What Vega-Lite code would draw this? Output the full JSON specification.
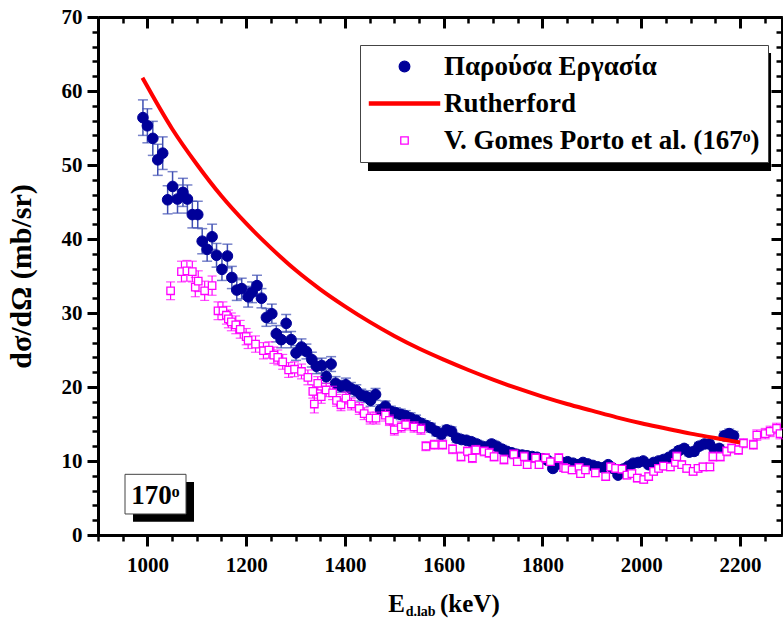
{
  "$schema": "https://vega.github.io/schema/vega-lite/v6.json",
  "width": 684,
  "height": 518,
  "autosize": "none",
  "padding": {"left": 98, "top": 17, "right": 1, "bottom": 85},
  "background": "white",
  "config": {
    "view": {"stroke": null},
    "font": "Liberation Serif",
    "legend": {
      "labelFont": "Liberation Serif",
      "labelFontSize": 27,
      "labelFontWeight": "bold",
      "labelColor": "black",
      "labelLimit": 500,
      "symbolSize": 113,
      "symbolStrokeWidth": 1.3,
      "symbolOpacity": 1,
      "symbolStrokeColor": "black",
      "symbolFillColor": "white",
      "symbolOffset": 23,
      "labelOffset": 26,
      "padding": 8,
      "rowPadding": 9,
      "strokeColor": "#444444",
      "fillColor": "white"
    }
  },
  "datasets": {
    "present": [
      {"E":991,"v":56.4,"err":2.4},{"E":1000,"v":55.3,"err":2.3},{"E":1011,"v":53.6,"err":2.3},{"E":1021,"v":50.7,"err":2.1},
      {"E":1031,"v":51.6,"err":2.2},{"E":1041,"v":45.3,"err":1.9},{"E":1051,"v":47.1,"err":2.0},{"E":1061,"v":45.4,"err":1.9},
      {"E":1072,"v":46.3,"err":1.9},{"E":1081,"v":45.4,"err":1.9},{"E":1091,"v":43.3,"err":1.8},{"E":1102,"v":43.3,"err":1.8},
      {"E":1111,"v":39.7,"err":1.7},{"E":1121,"v":38.6,"err":1.6},{"E":1131,"v":40.3,"err":1.7},{"E":1140,"v":37.8,"err":1.6},
      {"E":1151,"v":35.9,"err":1.5},{"E":1162,"v":37.7,"err":1.6},{"E":1171,"v":34.8,"err":1.5},{"E":1181,"v":33.1,"err":1.4},
      {"E":1191,"v":33.3,"err":1.4},{"E":1204,"v":32.2,"err":1.4},{"E":1212,"v":32.8,"err":1.4},{"E":1222,"v":33.7,"err":1.4},
      {"E":1231,"v":32.0,"err":1.3},{"E":1241,"v":29.4,"err":1.2},{"E":1252,"v":29.9,"err":1.3},{"E":1261,"v":27.2,"err":1.1},
      {"E":1271,"v":26.4,"err":1.1},{"E":1281,"v":28.6,"err":1.2},{"E":1291,"v":26.4,"err":1.1},{"E":1301,"v":24.6,"err":1.0},
      {"E":1312,"v":25.4,"err":1.1},{"E":1322,"v":24.8,"err":1.0},{"E":1333,"v":23.7,"err":1.0},{"E":1342,"v":22.8,"err":1.0},
      {"E":1353,"v":22.9,"err":1.0},{"E":1362,"v":21.4,"err":0.9},{"E":1372,"v":23.1,"err":1.0},{"E":1381,"v":20.5,"err":0.9},
      {"E":1392,"v":20.1,"err":0.8},{"E":1402,"v":20.3,"err":0.9},{"E":1412,"v":19.8,"err":0.8},{"E":1423,"v":19.5,"err":0.8},
      {"E":1433,"v":18.9,"err":0.8},{"E":1443,"v":18.7,"err":0.8},{"E":1452,"v":18.2,"err":0.8},{"E":1462,"v":19.0,"err":0.8},
      {"E":1472,"v":16.9,"err":0.7},{"E":1482,"v":17.4,"err":0.7},{"E":1493,"v":16.7,"err":0.7},{"E":1503,"v":16.5,"err":0.7},
      {"E":1513,"v":16.3,"err":0.7},{"E":1523,"v":16.1,"err":0.7},{"E":1533,"v":15.8,"err":0.7},{"E":1544,"v":15.5,"err":0.7},
      {"E":1554,"v":15.1,"err":0.6},{"E":1564,"v":14.8,"err":0.6},{"E":1574,"v":14.5,"err":0.6},{"E":1585,"v":14.0,"err":0.6},
      {"E":1595,"v":13.6,"err":0.6},{"E":1606,"v":14.2,"err":0.6},{"E":1616,"v":14.0,"err":0.6},{"E":1626,"v":13.1,"err":0.6},
      {"E":1636,"v":12.9,"err":0.5},{"E":1646,"v":12.8,"err":0.5},{"E":1656,"v":12.6,"err":0.5},{"E":1667,"v":12.3,"err":0.5},
      {"E":1677,"v":12.0,"err":0.5},{"E":1687,"v":11.9,"err":0.5},{"E":1697,"v":12.3,"err":0.5},{"E":1707,"v":12.0,"err":0.5},
      {"E":1718,"v":11.6,"err":0.5},{"E":1728,"v":11.3,"err":0.5},{"E":1738,"v":11.1,"err":0.5},{"E":1748,"v":10.9,"err":0.5},
      {"E":1759,"v":10.8,"err":0.5},{"E":1769,"v":10.7,"err":0.4},{"E":1779,"v":10.6,"err":0.4},{"E":1789,"v":10.5,"err":0.4},
      {"E":1800,"v":10.3,"err":0.4},{"E":1810,"v":10.1,"err":0.4},{"E":1821,"v":9.0,"err":0.4},{"E":1831,"v":9.6,"err":0.4},
      {"E":1841,"v":9.8,"err":0.4},{"E":1851,"v":9.9,"err":0.4},{"E":1862,"v":9.7,"err":0.4},{"E":1872,"v":9.5,"err":0.4},
      {"E":1882,"v":9.8,"err":0.4},{"E":1892,"v":9.6,"err":0.4},{"E":1902,"v":9.4,"err":0.4},{"E":1912,"v":9.2,"err":0.4},
      {"E":1923,"v":9.1,"err":0.4},{"E":1933,"v":9.5,"err":0.4},{"E":1943,"v":9.0,"err":0.4},{"E":1953,"v":8.1,"err":0.3},
      {"E":1963,"v":8.9,"err":0.4},{"E":1974,"v":9.3,"err":0.4},{"E":1984,"v":9.7,"err":0.4},{"E":1994,"v":9.8,"err":0.4},
      {"E":2004,"v":10.0,"err":0.4},{"E":2015,"v":9.5,"err":0.4},{"E":2025,"v":9.8,"err":0.4},{"E":2035,"v":10.0,"err":0.4},
      {"E":2045,"v":10.2,"err":0.4},{"E":2056,"v":10.5,"err":0.4},{"E":2066,"v":10.9,"err":0.5},{"E":2076,"v":11.4,"err":0.5},
      {"E":2087,"v":11.7,"err":0.5},{"E":2097,"v":11.2,"err":0.5},{"E":2107,"v":11.3,"err":0.5},{"E":2117,"v":12.0,"err":0.5},
      {"E":2128,"v":12.3,"err":0.5},{"E":2138,"v":12.3,"err":0.5},{"E":2148,"v":11.6,"err":0.5},{"E":2158,"v":11.7,"err":0.5},
      {"E":2168,"v":13.4,"err":0.6},{"E":2178,"v":13.7,"err":0.6},{"E":2187,"v":13.4,"err":0.6}
    ],
    "gomes": [
      {"E":1047,"v":33.0,"err":1.2},{"E":1069,"v":35.6,"err":1.4},{"E":1080,"v":35.7,"err":1.4},{"E":1091,"v":35.6,"err":1.4},
      {"E":1097,"v":33.5,"err":1.3},{"E":1103,"v":34.3,"err":1.4},{"E":1116,"v":33.0,"err":1.3},{"E":1131,"v":33.7,"err":1.3},
      {"E":1143,"v":30.3,"err":1.2},{"E":1153,"v":30.3,"err":1.2},{"E":1160,"v":29.7,"err":1.2},{"E":1164,"v":29.2,"err":1.2},
      {"E":1170,"v":28.8,"err":1.2},{"E":1179,"v":28.4,"err":1.2},{"E":1188,"v":27.8,"err":1.2},{"E":1200,"v":26.8,"err":1.1},
      {"E":1204,"v":26.3,"err":1.1},{"E":1219,"v":25.8,"err":1.1},{"E":1235,"v":24.9,"err":1.1},{"E":1246,"v":25.0,"err":1.1},
      {"E":1256,"v":24.3,"err":1.1},{"E":1264,"v":24.0,"err":1.0},{"E":1274,"v":23.4,"err":1.0},{"E":1286,"v":22.3,"err":1.0},
      {"E":1298,"v":22.4,"err":1.0},{"E":1312,"v":22.1,"err":1.0},{"E":1325,"v":21.3,"err":1.0},{"E":1335,"v":19.4,"err":0.9},
      {"E":1338,"v":17.7,"err":1.2},{"E":1345,"v":20.5,"err":0.9},{"E":1352,"v":18.7,"err":0.9},{"E":1362,"v":19.6,"err":0.9},
      {"E":1375,"v":19.2,"err":0.9},{"E":1383,"v":18.2,"err":0.8},{"E":1392,"v":17.6,"err":0.8},{"E":1402,"v":18.5,"err":0.8},
      {"E":1413,"v":17.7,"err":0.8},{"E":1429,"v":17.1,"err":0.8},{"E":1439,"v":16.4,"err":0.8},{"E":1451,"v":15.8,"err":0.8},
      {"E":1463,"v":15.8,"err":0.8},{"E":1482,"v":16.2,"err":0.8},{"E":1490,"v":15.5,"err":0.7},{"E":1500,"v":14.2,"err":0.7},
      {"E":1514,"v":14.6,"err":0.7},{"E":1523,"v":14.9,"err":0.7},{"E":1540,"v":14.6,"err":0.7},{"E":1554,"v":14.3,"err":0.7},
      {"E":1564,"v":12.0,"err":0.6},{"E":1581,"v":12.2,"err":0.6},{"E":1598,"v":12.2,"err":0.6},{"E":1618,"v":11.6,"err":0.6},
      {"E":1635,"v":10.6,"err":0.6},{"E":1648,"v":11.3,"err":0.6},{"E":1658,"v":10.4,"err":0.6},{"E":1665,"v":11.5,"err":0.6},
      {"E":1682,"v":11.3,"err":0.6},{"E":1692,"v":11.1,"err":0.6},{"E":1702,"v":10.6,"err":0.6},{"E":1722,"v":10.2,"err":0.6},
      {"E":1742,"v":10.9,"err":0.6},{"E":1749,"v":9.9,"err":0.5},{"E":1763,"v":10.6,"err":0.6},{"E":1769,"v":9.5,"err":0.5},
      {"E":1786,"v":10.4,"err":0.6},{"E":1793,"v":9.5,"err":0.5},{"E":1806,"v":10.4,"err":0.6},{"E":1816,"v":9.9,"err":0.5},
      {"E":1833,"v":10.4,"err":0.6},{"E":1843,"v":9.1,"err":0.5},{"E":1847,"v":9.0,"err":0.5},{"E":1860,"v":8.8,"err":0.5},
      {"E":1874,"v":9.1,"err":0.5},{"E":1877,"v":8.3,"err":0.5},{"E":1887,"v":8.8,"err":0.5},{"E":1907,"v":8.4,"err":0.5},
      {"E":1928,"v":7.9,"err":0.5},{"E":1938,"v":9.2,"err":0.5},{"E":1948,"v":9.0,"err":0.5},{"E":1961,"v":8.9,"err":0.5},
      {"E":1971,"v":8.1,"err":0.5},{"E":1981,"v":8.3,"err":0.5},{"E":1992,"v":7.7,"err":0.5},{"E":2005,"v":7.5,"err":0.5},
      {"E":2015,"v":7.9,"err":0.5},{"E":2025,"v":8.6,"err":0.5},{"E":2035,"v":9.0,"err":0.5},{"E":2045,"v":9.3,"err":0.5},
      {"E":2059,"v":9.2,"err":0.5},{"E":2069,"v":9.8,"err":0.5},{"E":2072,"v":10.6,"err":0.6},{"E":2082,"v":9.5,"err":0.5},
      {"E":2092,"v":9.0,"err":0.5},{"E":2105,"v":8.6,"err":0.5},{"E":2115,"v":9.0,"err":0.5},{"E":2125,"v":9.2,"err":0.5},
      {"E":2139,"v":9.2,"err":0.5},{"E":2145,"v":10.6,"err":0.6},{"E":2160,"v":10.6,"err":0.6},{"E":2173,"v":11.3,"err":0.6},
      {"E":2183,"v":11.7,"err":0.6},{"E":2197,"v":11.5,"err":0.6},{"E":2207,"v":12.4,"err":0.6},{"E":2227,"v":12.2,"err":0.6},
      {"E":2234,"v":13.5,"err":0.7},{"E":2251,"v":13.7,"err":0.7},{"E":2261,"v":14.0,"err":0.7},{"E":2274,"v":14.4,"err":0.7},
      {"E":2281,"v":13.7,"err":0.7}
    ],
    "ruth": [
      {"E":990,"v":61.8},{"E":1000,"v":60.6},{"E":1050,"v":54.9},{"E":1100,"v":50.1},{"E":1150,"v":45.8},
      {"E":1200,"v":42.1},{"E":1250,"v":38.8},{"E":1300,"v":35.8},{"E":1350,"v":33.2},{"E":1400,"v":30.9},
      {"E":1450,"v":28.8},{"E":1500,"v":26.9},{"E":1550,"v":25.2},{"E":1600,"v":23.7},{"E":1650,"v":22.3},
      {"E":1700,"v":21.0},{"E":1750,"v":19.8},{"E":1800,"v":18.7},{"E":1850,"v":17.7},{"E":1900,"v":16.8},
      {"E":1950,"v":15.9},{"E":2000,"v":15.1},{"E":2050,"v":14.4},{"E":2100,"v":13.7},{"E":2150,"v":13.1},
      {"E":2200,"v":12.5}
    ],
    "one": [{}]
  },
  "resolve": {"axis": {"x": "independent", "y": "independent"}},
  "layer": [
    {
      "data": {"name": "present"},
      "mark": {"type": "errorbar", "color": "#3f4fb3", "thickness": 1.5, "ticks": {"size": 10, "thickness": 1.5, "color": "#3f4fb3"}},
      "encoding": {
        "x": {"field": "E", "type": "quantitative", "scale": {"domain": [900, 2285], "nice": false, "zero": false}, "axis": null},
        "y": {"field": "v", "type": "quantitative", "scale": {"domain": [0, 70], "nice": false, "zero": false}, "axis": null},
        "yError": {"field": "err"}
      }
    },
    {
      "data": {"name": "present"},
      "mark": {"type": "point", "filled": true, "opacity": 1, "size": 113, "strokeWidth": 1},
      "encoding": {
        "x": {"field": "E", "type": "quantitative", "scale": {"domain": [900, 2285], "nice": false, "zero": false},
          "axis": {"orient": "top", "values": [1000,1200,1400,1600,1800,2000,2200],
            "labels": false, "title": null, "grid": false, "domain": true, "domainColor": "black", "domainWidth": 3,
            "tickColor": "black", "tickWidth": 3, "tickSize": -11}},
        "y": {"field": "v", "type": "quantitative", "scale": {"domain": [0, 70], "nice": false, "zero": false},
          "axis": {"orient": "right", "values": [0,10,20,30,40,50,60,70],
            "labels": false, "title": null, "grid": false, "domain": true, "domainColor": "black", "domainWidth": 3,
            "tickColor": "black", "tickWidth": 3, "tickSize": -11}},
        "fill": {"datum": "Παρούσα Εργασία", "type": "nominal",
          "scale": {"domain": ["Παρούσα Εργασία", "Rutherford", "V. Gomes Porto et al. (167ᵒ)"], "range": ["#000099", "#ff0000", "white"]},
          "legend": {"title": null, "orient": "none", "legendX": 262, "legendY": 28}},
        "stroke": {"datum": "Παρούσα Εργασία", "type": "nominal",
          "scale": {"domain": ["Παρούσα Εργασία", "Rutherford", "V. Gomes Porto et al. (167ᵒ)"], "range": ["#000099", "#ff0000", "#ff00ff"]},
          "legend": {"title": null, "orient": "none", "legendX": 262, "legendY": 28}},
        "shape": {"datum": "Παρούσα Εργασία", "type": "nominal",
          "scale": {"domain": ["Παρούσα Εργασία", "Rutherford", "V. Gomes Porto et al. (167ᵒ)"], "range": ["circle", "M-6.6,-0.3H6.6V0.3H-6.6Z", "M-0.7,-0.7H0.7V0.7H-0.7Z"]},
          "legend": {"title": null, "orient": "none", "legendX": 262, "legendY": 28}}
      }
    },
    {
      "data": {"name": "gomes"},
      "mark": {"type": "errorbar", "color": "#ff00ff", "thickness": 1.2, "ticks": {"size": 9, "thickness": 1.2, "color": "#ff00ff"}},
      "encoding": {
        "x": {"field": "E", "type": "quantitative", "scale": {"domain": [900, 2285], "nice": false, "zero": false}, "axis": null},
        "y": {"field": "v", "type": "quantitative", "scale": {"domain": [0, 70], "nice": false, "zero": false}, "axis": null},
        "yError": {"field": "err"}
      }
    },
    {
      "data": {"name": "gomes"},
      "mark": {"type": "point", "filled": true, "opacity": 1, "size": 113, "strokeWidth": 1.3, "clip": true},
      "encoding": {
        "x": {"field": "E", "type": "quantitative", "scale": {"domain": [900, 2285], "nice": false, "zero": false},
          "axis": {"orient": "bottom", "values": [900,950,1000,1050,1100,1150,1200,1250,1300,1350,1400,1450,1500,1550,1600,1650,1700,1750,1800,1850,1900,1950,2000,2050,2100,2150,2200,2250],
            "labels": false, "title": null, "grid": false, "domain": false, "tickColor": "black", "tickWidth": 2.5, "tickSize": 6}},
        "y": {"field": "v", "type": "quantitative", "scale": {"domain": [0, 70], "nice": false, "zero": false},
          "axis": {"orient": "left", "values": [0,2,4,6,8,10,12,14,16,18,20,22,24,26,28,30,32,34,36,38,40,42,44,46,48,50,52,54,56,58,60,62,64,66,68,70],
            "labels": false, "title": null, "grid": false, "domain": false, "tickColor": "black", "tickWidth": 2.5, "tickSize": 6}},
        "fill": {"datum": "V. Gomes Porto et al. (167ᵒ)", "type": "nominal",
          "scale": {"domain": ["Παρούσα Εργασία", "Rutherford", "V. Gomes Porto et al. (167ᵒ)"], "range": ["#000099", "#ff0000", "white"]},
          "legend": {"title": null, "orient": "none", "legendX": 262, "legendY": 28}},
        "stroke": {"datum": "V. Gomes Porto et al. (167ᵒ)", "type": "nominal",
          "scale": {"domain": ["Παρούσα Εργασία", "Rutherford", "V. Gomes Porto et al. (167ᵒ)"], "range": ["#000099", "#ff0000", "#ff00ff"]},
          "legend": {"title": null, "orient": "none", "legendX": 262, "legendY": 28}},
        "shape": {"datum": "V. Gomes Porto et al. (167ᵒ)", "type": "nominal",
          "scale": {"domain": ["Παρούσα Εργασία", "Rutherford", "V. Gomes Porto et al. (167ᵒ)"], "range": ["circle", "M-6.6,-0.3H6.6V0.3H-6.6Z", "M-0.7,-0.7H0.7V0.7H-0.7Z"]},
          "legend": {"title": null, "orient": "none", "legendX": 262, "legendY": 28}}
      }
    },
    {
      "data": {"name": "ruth"},
      "mark": {"type": "line", "strokeWidth": 4, "interpolate": "monotone"},
      "encoding": {
        "x": {"field": "E", "type": "quantitative", "scale": {"domain": [900, 2285], "nice": false, "zero": false},
          "axis": {"orient": "bottom", "values": [1000,1200,1400,1600,1800,2000,2200],
            "format": "d", "labelOverlap": false, "labelFlush": false,
            "labelFont": "Liberation Serif", "labelFontSize": 21, "labelFontWeight": "bold", "labelColor": "black", "labelPadding": 8,
            "title": null, "grid": false, "domain": true, "domainColor": "black", "domainWidth": 3, "tickColor": "black", "tickWidth": 3, "tickSize": 11}},
        "y": {"field": "v", "type": "quantitative", "scale": {"domain": [0, 70], "nice": false, "zero": false},
          "axis": {"orient": "left", "values": [0,10,20,30,40,50,60,70],
            "format": "d", "labelOverlap": false, "labelFlush": false,
            "labelFont": "Liberation Serif", "labelFontSize": 21, "labelFontWeight": "bold", "labelColor": "black", "labelPadding": 5,
            "title": "dσ/dΩ (mb/sr)", "titleFont": "Liberation Serif", "titleFontSize": 30, "titleFontWeight": "bold", "titleColor": "black", "titlePadding": 25,
            "grid": false, "domain": true, "domainColor": "black", "domainWidth": 3, "tickColor": "black", "tickWidth": 3, "tickSize": 11}},
        "stroke": {"datum": "Rutherford", "type": "nominal",
          "scale": {"domain": ["Παρούσα Εργασία", "Rutherford", "V. Gomes Porto et al. (167ᵒ)"], "range": ["#000099", "#ff0000", "#ff00ff"]},
          "legend": {"title": null, "orient": "none", "legendX": 262, "legendY": 28}}
      }
    },
    {
      "data": {"name": "one"},
      "mark": {"type": "rect", "color": "black"},
      "encoding": {
        "x": {"datum": 970.9, "type": "quantitative", "scale": {"domain": [900, 2285], "nice": false, "zero": false}, "axis": null},
        "x2": {"datum": 1094.4},
        "y": {"datum": 7.16, "type": "quantitative", "scale": {"domain": [0, 70], "nice": false, "zero": false}, "axis": null},
        "y2": {"datum": 1.8}
      }
    },
    {
      "data": {"name": "one"},
      "mark": {"type": "rect", "fill": "white", "stroke": "#444444", "strokeWidth": 1},
      "encoding": {
        "x": {"datum": 954.7, "type": "quantitative", "scale": {"domain": [900, 2285], "nice": false, "zero": false}, "axis": null},
        "x2": {"datum": 1078.2},
        "y": {"datum": 8.2, "type": "quantitative", "scale": {"domain": [0, 70], "nice": false, "zero": false}, "axis": null},
        "y2": {"datum": 2.84}
      }
    },
    {
      "data": {"name": "one"},
      "mark": {"type": "text", "text": "170ᵒ", "font": "Liberation Serif", "fontSize": 27, "fontWeight": "bold", "color": "black", "align": "center", "baseline": "middle"},
      "encoding": {
        "x": {"datum": 1016, "type": "quantitative", "scale": {"domain": [900, 2285], "nice": false, "zero": false},
          "axis": {"orient": "top", "values": [900,950,1000,1050,1100,1150,1200,1250,1300,1350,1400,1450,1500,1550,1600,1650,1700,1750,1800,1850,1900,1950,2000,2050,2100,2150,2200,2250],
            "labels": false, "title": null, "grid": false, "domain": false, "tickColor": "black", "tickWidth": 2.5, "tickSize": -6}},
        "y": {"datum": 5.3, "type": "quantitative", "scale": {"domain": [0, 70], "nice": false, "zero": false},
          "axis": {"orient": "right", "values": [0,2,4,6,8,10,12,14,16,18,20,22,24,26,28,30,32,34,36,38,40,42,44,46,48,50,52,54,56,58,60,62,64,66,68,70],
            "labels": false, "title": null, "grid": false, "domain": false, "tickColor": "black", "tickWidth": 2.5, "tickSize": -6}}
      }
    },
    {
      "data": {"name": "one"},
      "mark": {"type": "rect", "color": "black"},
      "encoding": {
        "x": {"datum": 1446.7, "type": "quantitative", "scale": {"domain": [900, 2285], "nice": false, "zero": false}, "axis": null},
        "x2": {"datum": 2262.8},
        "y": {"datum": 65.14, "type": "quantitative", "scale": {"domain": [0, 70], "nice": false, "zero": false}, "axis": null},
        "y2": {"datum": 49.19}
      }
    },
    {
      "data": {"name": "one"},
      "mark": {"type": "text", "text": "E", "font": "Liberation Serif", "fontSize": 25, "fontWeight": "bold", "color": "black", "align": "right", "baseline": "alphabetic"},
      "encoding": {
        "x": {"datum": 1521.7, "type": "quantitative", "scale": {"domain": [900, 2285], "nice": false, "zero": false}, "axis": null},
        "y": {"datum": -10.36, "type": "quantitative", "scale": {"domain": [0, 70], "nice": false, "zero": false}, "axis": null}
      }
    },
    {
      "data": {"name": "one"},
      "mark": {"type": "text", "text": "d.lab", "font": "Liberation Serif", "fontSize": 14, "fontWeight": "bold", "color": "black", "align": "left", "baseline": "alphabetic"},
      "encoding": {
        "x": {"datum": 1523, "type": "quantitative", "scale": {"domain": [900, 2285], "nice": false, "zero": false}, "axis": null},
        "y": {"datum": -10.95, "type": "quantitative", "scale": {"domain": [0, 70], "nice": false, "zero": false}, "axis": null}
      }
    },
    {
      "data": {"name": "one"},
      "mark": {"type": "text", "text": "(keV)", "font": "Liberation Serif", "fontSize": 25, "fontWeight": "bold", "color": "black", "align": "left", "baseline": "alphabetic"},
      "encoding": {
        "x": {"datum": 1592.5, "type": "quantitative", "scale": {"domain": [900, 2285], "nice": false, "zero": false}, "axis": null},
        "y": {"datum": -10.36, "type": "quantitative", "scale": {"domain": [0, 70], "nice": false, "zero": false}, "axis": null}
      }
    }
  ]
}
